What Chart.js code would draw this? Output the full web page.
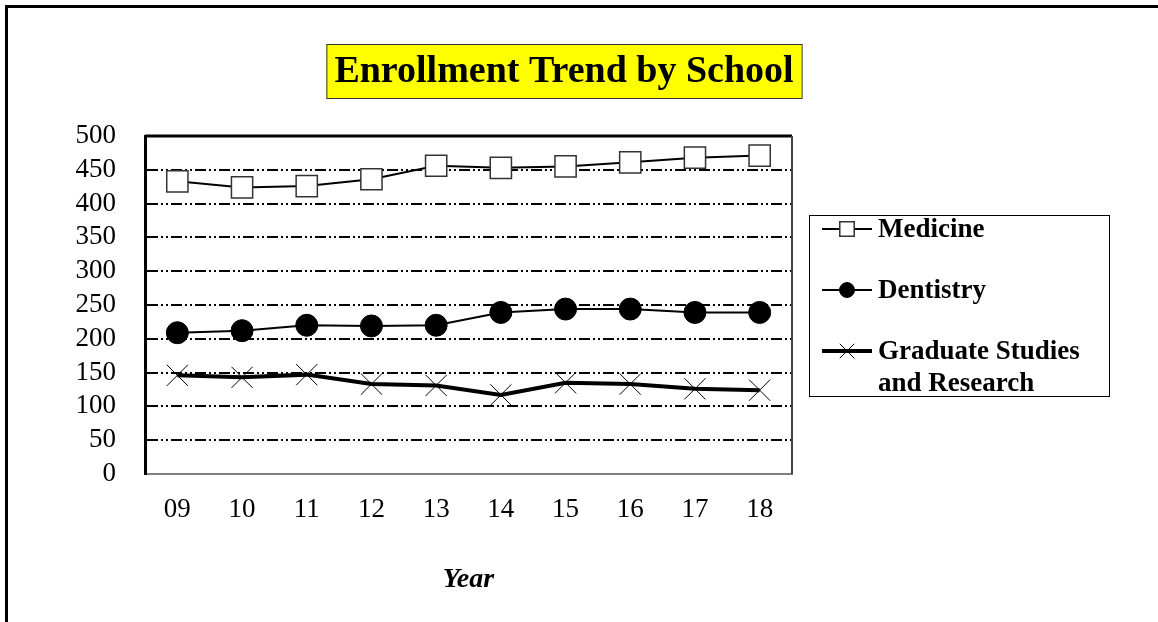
<!DOCTYPE html>
<html>
<head>
<meta charset="utf-8">
<script src="https://cdn.jsdelivr.net/npm/chart.js@4.4.1/dist/chart.umd.min.js"></script>
<style>
    html, body { margin: 0; padding: 0; background: #fff; }
    canvas { display: block; }
</style>
</head>
<body>
<canvas id="enrollChart" width="1158" height="622"></canvas>
<script>
const titleText = "Enrollment Trend by School";
const years = ["09", "10", "11", "12", "13", "14", "15", "16", "17", "18"];
const medicine = [433, 424, 426, 436, 456, 453, 455, 461, 468, 471];
const dentistry = [209, 212, 220, 219, 220, 239, 244, 244, 239, 239];
const graduate = [146, 143, 147, 133, 131, 117, 135, 133, 126, 124];
const seriesNames = ["Medicine", "Dentistry", ["Graduate Studies", "and Research"]];
const yMin = 0;
const yMax = 500;
const yStep = 50;

const serif = '"Liberation Serif", "Times New Roman", serif';

// page frame + yellow title box
const pageFrame = {
    id: "pageFrame",
    beforeDraw(chart) {
        const ctx = chart.ctx;
        ctx.save();
        ctx.fillStyle = "#fff";
        ctx.fillRect(0, 0, chart.width, chart.height);
        ctx.fillStyle = "#000";
        ctx.fillRect(5, 5, chart.width - 5, 3);
        ctx.fillRect(5, 5, 3, chart.height - 5);

        ctx.font = "bold 38px " + serif;
        const w = ctx.measureText(titleText).width;
        const cx = 564, cy = 71;
        ctx.fillStyle = "#ffff00";
        ctx.fillRect(cx - w / 2 - 8, 44, w + 16, 54);
        ctx.strokeStyle = "#333";
        ctx.lineWidth = 1;
        ctx.strokeRect(cx - w / 2 - 8 + 0.5, 44.5, w + 16, 54);
        ctx.fillStyle = "#000";
        ctx.textAlign = "center";
        ctx.textBaseline = "middle";
        ctx.fillText(titleText, cx, cy + 1);
        ctx.restore();
    },
};

// top and right edges of the plot box
const plotFrame = {
    id: "plotFrame",
    beforeDatasetsDraw(chart) {
        const { ctx, chartArea: a } = chart;
        ctx.save();
        ctx.strokeStyle = "#000";
        ctx.lineWidth = 3;
        ctx.beginPath();
        ctx.moveTo(a.left, a.top);
        ctx.lineTo(a.right, a.top);
        ctx.stroke();
        ctx.strokeStyle = "#444";
        ctx.lineWidth = 2;
        ctx.beginPath();
        ctx.moveTo(a.right, a.top);
        ctx.lineTo(a.right, a.bottom);
        ctx.stroke();
        ctx.restore();
    },
};

// boxed legend on the right, with wrapped label
const boxLegend = {
    id: "boxLegend",
    afterDraw(chart) {
        const ctx = chart.ctx;
        const x0 = 809, y0 = 215, bw = 300, bh = 181;
        ctx.save();
        ctx.strokeStyle = "#000";
        ctx.lineWidth = 1;
        ctx.strokeRect(x0 + 0.5, y0 + 0.5, bw, bh);
        const rows = [229, 290, 351];
        chart.data.datasets.forEach((ds, i) => {
            const y = rows[i];
            ctx.strokeStyle = ds.borderColor;
            ctx.lineWidth = ds.borderWidth;
            ctx.beginPath();
            ctx.moveTo(822, y);
            ctx.lineTo(872, y);
            ctx.stroke();
            ctx.fillStyle = ds.pointBackgroundColor;
            ctx.strokeStyle = ds.pointBorderColor;
            ctx.lineWidth = ds.pointBorderWidth;
            Chart.helpers.drawPoint(ctx, {
                pointStyle: ds.pointStyle,
                radius: ds.pointRadius * 0.68,
                borderWidth: ds.pointBorderWidth,
                rotation: 0,
            }, 847, y);
            ctx.fillStyle = "#000";
            ctx.font = "bold 27px " + serif;
            ctx.textAlign = "left";
            ctx.textBaseline = "middle";
            const lines = Array.isArray(ds.label) ? ds.label : [ds.label];
            lines.forEach((t, k) => ctx.fillText(t, 878, y + 1 + k * 32));
        });
        ctx.restore();
    },
};

const ctx = document.getElementById("enrollChart").getContext("2d");

const enrollChart = new Chart(ctx, {
    type: "line",
    data: {
        labels: years,
        datasets: [
            {
                label: seriesNames[0],
                data: medicine,
                borderColor: "#000",
                borderWidth: 2,
                pointStyle: "rect",
                pointRadius: 15,
                pointBackgroundColor: "#fff",
                pointBorderColor: "#333",
                pointBorderWidth: 1.5,
            },
            {
                label: seriesNames[1],
                data: dentistry,
                borderColor: "#000",
                borderWidth: 2,
                pointStyle: "circle",
                pointRadius: 11,
                pointBackgroundColor: "#000",
                pointBorderColor: "#000",
                pointBorderWidth: 1,
            },
            {
                label: seriesNames[2],
                data: graduate,
                borderColor: "#000",
                borderWidth: 4,
                pointStyle: "crossRot",
                pointRadius: 15,
                pointBackgroundColor: "#000",
                pointBorderColor: "#000",
                pointBorderWidth: 1,
            },
        ],
    },
    options: {
        responsive: false,
        animation: false,
        layout: {
            padding: { top: 136, left: 60, right: 366, bottom: 0 },
        },
        scales: {
            x: {
                offset: true,
                grid: { display: false, drawTicks: false },
                border: { color: "#808080", width: 2 },
                ticks: {
                    color: "#000",
                    padding: 20,
                    font: { family: serif, size: 27 },
                },
                title: {
                    display: true,
                    text: "Year",
                    color: "#000",
                    padding: { top: 0, bottom: 25 },
                    font: { family: serif, size: 28, weight: "bold", style: "italic" },
                },
                afterFit(scale) {
                    scale.height = 148;
                },
            },
            y: {
                min: yMin,
                max: yMax,
                ticks: {
                    stepSize: yStep,
                    autoSkip: false,
                    color: "#000",
                    padding: 29,
                    font: { family: serif, size: 27 },
                },
                grid: {
                    drawTicks: false,
                    lineWidth: 2,
                    color: (c) => (c.tick && (c.tick.value === yMin || c.tick.value === yMax)) ? "rgba(0,0,0,0)" : "#000",
                },
                border: { color: "#000", width: 3, dash: [11, 3, 2, 3, 2, 3] },
                afterFit(scale) {
                    scale.width = 85;
                },
            },
        },
        plugins: {
            legend: { display: false },
            title: { display: false },
            tooltip: { enabled: false },
        },
    },
    plugins: [pageFrame, plotFrame, boxLegend],
});
</script>
</body>
</html>
